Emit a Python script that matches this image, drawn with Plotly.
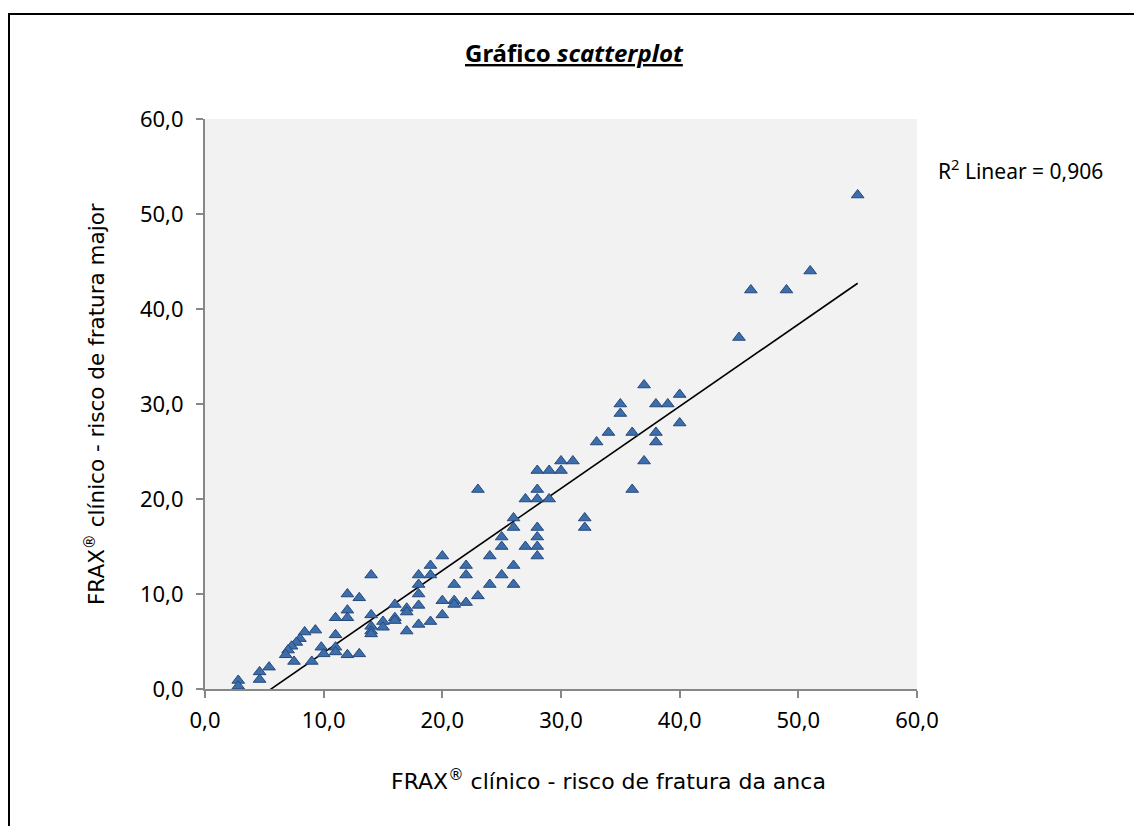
import numpy as np
import plotly.graph_objects as go

# FRAX hip fracture risk (x) vs major fracture risk (y)
frax_anca = [55, 51, 49, 46, 45,
             37, 40, 35, 38, 39, 35, 40,
             34, 36, 38, 33, 38,
             30, 31, 37,
             28, 29, 30,
             23, 28, 36,
             27, 28, 29,
             26, 32, 26, 32, 28,
             25, 28, 25, 27, 28,
             20, 24, 28,
             19, 22, 26,
             14, 18, 19, 22, 25,
             18, 21, 24, 26,
             12, 13, 18, 23, 20, 21, 22, 21, 16, 18, 17, 12, 17,
             19, 20, 18, 17,
             14, 11, 12, 16, 16, 15, 15, 14, 14, 14, 11,
             9.3, 8.4, 8.0, 7.7, 7.3, 7.0, 6.8, 7.5, 9.0, 9.8, 10.0, 11, 11, 12, 13,
             5.4, 4.6, 4.6, 2.8, 2.8]
frax_major = [52, 44, 42, 42, 37,
              32, 31, 30, 30, 30, 29, 28,
              27, 27, 27, 26, 26,
              24, 24, 24,
              23, 23, 23,
              21, 21, 21,
              20, 20, 20,
              18, 18, 17, 17, 17,
              16, 16, 15, 15, 15,
              14, 14, 14,
              13, 13, 13,
              12, 12, 12, 12, 12,
              11, 11, 11, 11,
              10, 9.6, 10, 9.8, 9.3, 9.3, 9.1, 8.9, 8.9, 8.8, 8.5, 8.3, 8.1,
              7.1, 7.8, 6.8, 6.1,
              7.8, 7.5, 7.5, 7.5, 7.2, 7.1, 6.5, 6.6, 6.1, 5.8, 5.7,
              6.2, 6.0, 5.3, 4.9, 4.5, 4.1, 3.6, 2.9, 2.9, 4.4, 3.7, 4.4, 3.9, 3.6, 3.7,
              2.3, 1.8, 1.0, 0.9, 0.3]

# linear fit as shown on the chart (R² = 0,906)
fit_slope = 0.864
fit_intercept = -4.81

r2_text = "R<sup>2</sup> Linear = 0,906"
title_text = "<u><b>Gráfico <i>scatterplot</i></b></u>"
x_title = "FRAX<sup>®</sup> clínico - risco de fratura da anca"
y_title = "FRAX<sup>®</sup> clínico - risco de fratura major"
tick_vals = [0, 10, 20, 30, 40, 50, 60]

xa = np.array(frax_anca, dtype=float)
fit_x = np.array([xa.min(), xa.max()])
fit_y = fit_slope * fit_x + fit_intercept

# layout geometry (pixels)
W, H = 1134, 826
L, R, T, B = 205, 917, 119, 689


def px(xp):
    return (xp - L) / (R - L)


def py(yp):
    return (B - yp) / (B - T)


FONT = "Noto Sans"
TFONT = "DejaVu Sans"

fig = go.Figure()
fig.add_trace(go.Scatter(
    x=fit_x, y=fit_y, mode="lines",
    line=dict(color="black", width=1.6),
    hoverinfo="skip", showlegend=False,
))
fig.add_trace(go.Scatter(
    x=frax_anca, y=frax_major, mode="markers",
    marker=dict(symbol="triangle-up", size=11, color="#3D6EAB",
                line=dict(color="#25497B", width=1)),
    showlegend=False,
))

axis_common = dict(
    range=[0, 60], tickvals=tick_vals, tickformat=".1f",
    showgrid=False, zeroline=False, showline=True,
    linecolor="#878787", linewidth=2,
    ticks="outside", ticklen=7, tickwidth=2, tickcolor="#878787",
    tickfont=dict(family=FONT, size=22, color="black"),
)

fig.update_layout(
    width=W, height=H,
    margin=dict(l=L, r=W - R, t=T, b=H - B, autoexpand=False),
    paper_bgcolor="white", plot_bgcolor="#F2F2F2",
    separators=",.",
    xaxis=dict(**axis_common, ticklabelstandoff=4),
    yaxis=dict(**axis_common, ticklabelstandoff=8),
    showlegend=False,
    annotations=[
        dict(text=title_text, x=px(574), y=py(52), xref="paper", yref="paper",
             xanchor="center", yanchor="middle", showarrow=False,
             font=dict(family=FONT, size=24, color="black")),
        dict(text=r2_text, x=px(936), y=py(170), xref="paper", yref="paper",
             xanchor="left", yanchor="middle", showarrow=False,
             font=dict(family=FONT, size=21, color="black")),
        dict(text=y_title, x=px(95), y=py(404), xref="paper", yref="paper",
             xanchor="center", yanchor="middle", textangle=-90, showarrow=False,
             font=dict(family=TFONT, size=21.5, color="black")),
        dict(text=x_title, x=px(608), y=py(780), xref="paper", yref="paper",
             xanchor="center", yanchor="middle", showarrow=False,
             font=dict(family=TFONT, size=22, color="black")),
    ],
    shapes=[
        dict(type="rect", xref="paper", yref="paper",
             x0=px(9), x1=px(1160), y0=py(14), y1=py(860),
             line=dict(color="black", width=2), fillcolor="rgba(0,0,0,0)",
             layer="below"),
    ],
)

fig.write_html("out.html")
